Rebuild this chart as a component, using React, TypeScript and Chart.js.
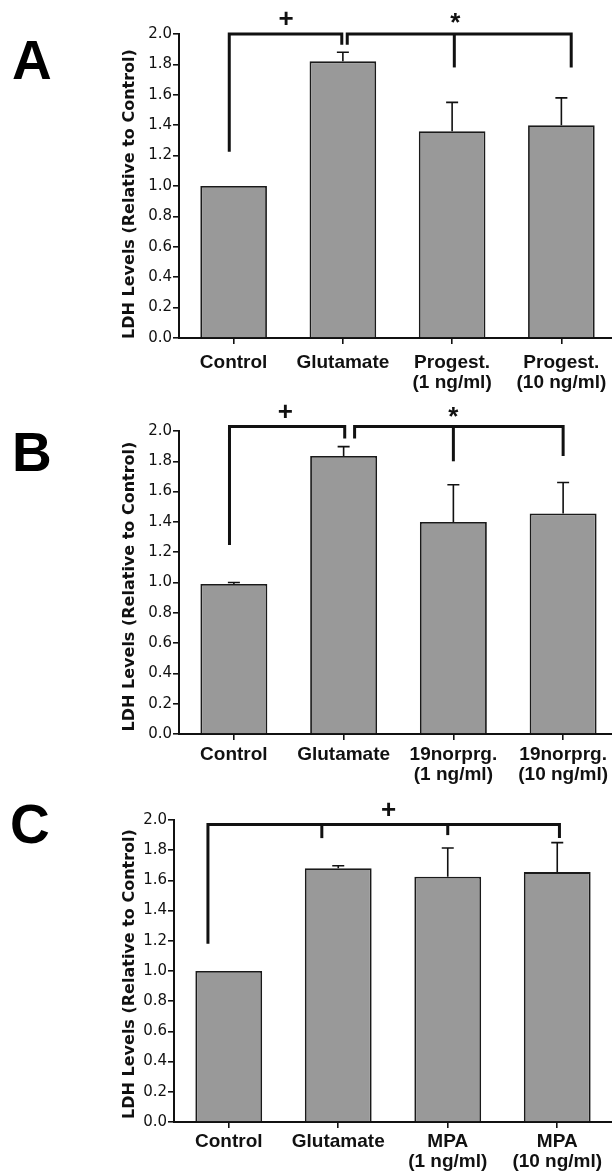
import React, { useEffect, useRef } from "react";
import { Chart, registerables } from "chart.js";

Chart.register(...registerables);

// ---------- data ----------
const yTickLabels = ["0.0", "0.2", "0.4", "0.6", "0.8", "1.0", "1.2", "1.4", "1.6", "1.8", "2.0"];
const yTitle = "LDH Levels (Relative to Control)";

const categoriesA = [["Control"], ["Glutamate"], ["Progest.", "(1 ng/ml)"], ["Progest.", "(10 ng/ml)"]];
const meansA = [1.0, 1.82, 1.36, 1.4];
const errorsA = [0, 0.06, 0.19, 0.18];

const categoriesB = [["Control"], ["Glutamate"], ["19norprg.", "(1 ng/ml)"], ["19norprg.", "(10 ng/ml)"]];
const meansB = [0.99, 1.835, 1.4, 1.455];
const errorsB = [0.01, 0.062, 0.245, 0.205];

const categoriesC = [["Control"], ["Glutamate"], ["MPA", "(1 ng/ml)"], ["MPA", "(10 ng/ml)"]];
const meansC = [1.0, 1.68, 1.625, 1.655];
const errorsC = [0, 0.017, 0.19, 0.195];

// brackets: y level and legs [categoryPosition, legEndValue]; first and last legs are the ends
const bracketsA = [
  { y: 2.0, legs: [[-0.04, 1.225], [0.99, 1.93]] },
  { y: 2.0, legs: [[1.04, 1.93], [2.02, 1.78], [3.09, 1.78]] },
];
const bracketsB = [
  { y: 2.03, legs: [[-0.04, 1.248], [1.01, 1.95]] },
  { y: 2.03, legs: [[1.1, 1.95], [2.0, 1.8], [3.0, 1.835]] },
];
const bracketsC = [
  { y: 1.97, legs: [[-0.19, 1.18], [0.85, 1.88], [2.0, 1.9], [3.02, 1.88]] },
];

const symbolsA = [{ text: "+", x: 0.48, y: 2.09 }, { text: "*", x: 2.03, y: 2.07 }];
const symbolsB = [{ text: "+", x: 0.47, y: 2.12 }, { text: "*", x: 2.0, y: 2.09 }];
const symbolsC = [{ text: "+", x: 1.46, y: 2.06 }];

const panelLetters = ["A", "B", "C"];

// ---------- layout ----------
type Panel = {
  letter: string;
  categories: string[][];
  means: number[];
  errors: number[];
  brackets: { y: number; legs: number[][] }[];
  symbols: { text: string; x: number; y: number }[];
  top: number;
  height: number;
  width: number;
  area: { left: number; right: number; top: number; bottom: number };
  labelPad: number;
  titleDy: number;
  letterTop: number;
  letterLeft: number;
};

const panels: Panel[] = [
  {
    letter: panelLetters[0], categories: categoriesA, means: meansA, errors: errorsA,
    brackets: bracketsA, symbols: symbolsA,
    top: 0, height: 392, width: 620,
    area: { left: 179, right: 616, top: 34, bottom: 338 },
    labelPad: 9, titleDy: 8, letterTop: 33, letterLeft: 12,
  },
  {
    letter: panelLetters[1], categories: categoriesB, means: meansB, errors: errorsB,
    brackets: bracketsB, symbols: symbolsB,
    top: 390, height: 400, width: 624,
    area: { left: 179, right: 618, top: 41, bottom: 344 },
    labelPad: 5, titleDy: 4, letterTop: 425, letterLeft: 12,
  },
  {
    letter: panelLetters[2], categories: categoriesC, means: meansC, errors: errorsC,
    brackets: bracketsC, symbols: symbolsC,
    top: 778, height: 394, width: 612,
    area: { left: 174, right: 612, top: 42, bottom: 344 },
    labelPad: 4, titleDy: 3, letterTop: 797, letterLeft: 10,
  },
];

function PanelChart({ p }: { p: Panel }) {
  const ref = useRef<HTMLCanvasElement | null>(null);
  useEffect(() => {
    const canvas = ref.current;
    if (!canvas) return;
    const xAt = (chart: any, v: number) => {
      const xs = chart.scales.x;
      const p0 = xs.getPixelForValue(0);
      const p1 = xs.getPixelForValue(1);
      return p0 + (p1 - p0) * v;
    };
    const overlay = {
      id: "overlay",
      afterDatasetsDraw(chart: any) {
        const ctx = chart.ctx;
        const ys = chart.scales.y;
        ctx.save();
        ctx.strokeStyle = "#111";
        ctx.lineWidth = 1.6;
        p.means.forEach((m, i) => {
          const e = p.errors[i];
          if (!e) return;
          const x = xAt(chart, i);
          const y0 = ys.getPixelForValue(m);
          const y1 = ys.getPixelForValue(m + e);
          ctx.beginPath();
          ctx.moveTo(x, y0);
          ctx.lineTo(x, y1);
          ctx.moveTo(x - 6, y1);
          ctx.lineTo(x + 6, y1);
          ctx.stroke();
        });
        ctx.restore();
      },
      afterDraw(chart: any) {
        const ctx = chart.ctx;
        const ys = chart.scales.y;
        const ca = chart.chartArea;
        ctx.save();
        // brackets
        ctx.strokeStyle = "#111";
        ctx.lineWidth = 3;
        ctx.lineJoin = "miter";
        ctx.lineCap = "butt";
        p.brackets.forEach((b) => {
          const yb = ys.getPixelForValue(b.y);
          const first = b.legs[0];
          const last = b.legs[b.legs.length - 1];
          ctx.beginPath();
          ctx.moveTo(xAt(chart, first[0]), ys.getPixelForValue(first[1]));
          ctx.lineTo(xAt(chart, first[0]), yb);
          ctx.lineTo(xAt(chart, last[0]), yb);
          ctx.lineTo(xAt(chart, last[0]), ys.getPixelForValue(last[1]));
          ctx.stroke();
          b.legs.slice(1, -1).forEach((l) => {
            ctx.beginPath();
            ctx.moveTo(xAt(chart, l[0]), yb);
            ctx.lineTo(xAt(chart, l[0]), ys.getPixelForValue(l[1]));
            ctx.stroke();
          });
        });
        // symbols
        ctx.fillStyle = "#111";
        ctx.font = "bold 26px 'Liberation Sans', Arial, sans-serif";
        ctx.textAlign = "center";
        ctx.textBaseline = "middle";
        p.symbols.forEach((s) => {
          ctx.fillText(s.text, xAt(chart, s.x), ys.getPixelForValue(s.y));
        });
        // y title
        ctx.font = "bold 16px 'DejaVu Sans', sans-serif";
        ctx.translate(130, (ca.top + ca.bottom) / 2 + p.titleDy);
        ctx.rotate(-Math.PI / 2);
        ctx.fillStyle = "#111";
        ctx.fillText(yTitle, 0, 0);
        ctx.restore();
      },
    };
    const chart = new Chart(canvas, {
      type: "bar",
      data: {
        labels: p.categories,
        datasets: [
          {
            data: p.means,
            backgroundColor: "#999999",
            borderColor: "#1a1a1a",
            borderWidth: 1.8,
            barPercentage: 0.61,
            categoryPercentage: 1.0,
          },
        ],
      },
      options: {
        responsive: false,
        animation: false,
        devicePixelRatio: 1,
        layout: {
          padding: { left: 0, top: p.area.top, right: p.width - p.area.right, bottom: 0 },
        },
        plugins: { legend: { display: false }, tooltip: { enabled: false }, title: { display: false } },
        scales: {
          x: {
            afterFit: (s: any) => { s.height = p.height - p.area.bottom; },
            ticks: {
              font: { family: "'Liberation Sans', Arial, sans-serif", size: 19, weight: "bold", lineHeight: 1.05 },
              color: "#111",
              padding: p.labelPad,
              maxRotation: 0,
              autoSkip: false,
            },
            grid: { offset: false, drawOnChartArea: false, tickLength: 6, color: "#111", lineWidth: 1.6 },
            border: { color: "#111", width: 2 },
          },
          y: {
            min: 0,
            max: 2,
            afterFit: (s: any) => { s.width = p.area.left; },
            ticks: {
              stepSize: 0.2,
              callback: (_v: any, i: number) => yTickLabels[i],
              font: { family: "'DejaVu Sans', sans-serif", size: 15 },
              color: "#111",
              padding: 1,
            },
            grid: { drawOnChartArea: false, tickLength: 6, color: "#111", lineWidth: 1.6 },
            border: { color: "#111", width: 2 },
          },
        },
      },
      plugins: [overlay],
    } as any);
    return () => chart.destroy();
  }, [p]);
  return (
    <>
      <canvas
        ref={ref}
        width={p.width}
        height={p.height}
        style={{ position: "absolute", left: 0, top: p.top, width: p.width, height: p.height }}
      />
      <div
        style={{
          position: "absolute",
          left: p.letterLeft,
          top: p.letterTop,
          fontFamily: "'Liberation Sans', Arial, sans-serif",
          fontWeight: "bold",
          fontSize: 55,
          lineHeight: 1,
          color: "#000",
        }}
      >
        {p.letter}
      </div>
    </>
  );
}

export default function App() {
  return (
    <div
      style={{
        position: "absolute",
        left: 0,
        top: 0,
        width: 612,
        height: 1172,
        overflow: "hidden",
        background: "#fff",
      }}
    >
      {panels.map((p) => (
        <PanelChart key={p.letter} p={p} />
      ))}
    </div>
  );
}
